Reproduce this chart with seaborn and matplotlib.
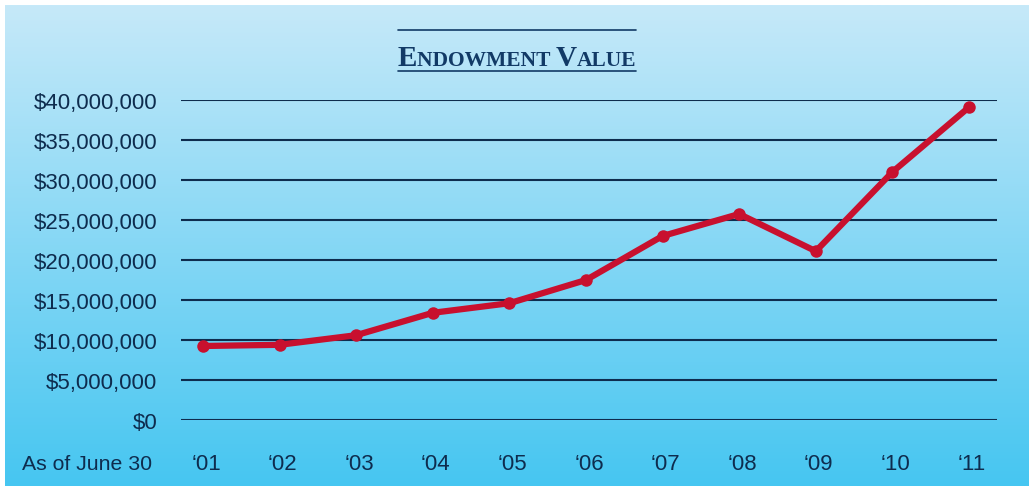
import numpy as np
import pandas as pd
import matplotlib
matplotlib.use("Agg")
import matplotlib.pyplot as plt
import seaborn as sns

years = ["\u201801", "\u201802", "\u201803", "\u201804", "\u201805", "\u201806",
         "\u201807", "\u201808", "\u201809", "\u201810", "\u201811"]
values = [9.25e6, 9.4e6, 10.6e6, 13.4e6, 14.6e6, 17.5e6,
          23.0e6, 25.75e6, 21.1e6, 31.0e6, 39.1e6]
yticks = [0, 5e6, 10e6, 15e6, 20e6, 25e6, 30e6, 35e6, 40e6]

sns.set_style("white")
plt.rcParams['font.family'] = ['Liberation Sans', 'DejaVu Sans']

W, H = 1030, 489
fig = plt.figure(figsize=(W / 100, H / 100), dpi=100)
fig.patch.set_facecolor("white")

# gradient background panel
bg = fig.add_axes([5 / W, 2 / H, (1029 - 5) / W, (487 - 6) / H])
top = np.array([0xc6, 0xe9, 0xf9]) / 255
bot = np.array([0x46, 0xc6, 0xf1]) / 255
t = np.linspace(0, 1, 256)[:, None]
grad = (top[None, :] * (1 - t) + bot[None, :] * t)[:, None, :]
bg.imshow(grad, aspect="auto", extent=[0, 1, 0, 1], origin="upper")
bg.set_axis_off()

navy = "#0e2c4e"
fs = 16
ax = fig.add_axes([181 / W, 1 - 421 / H, (997 - 181) / W, (421 - 101) / H])
ax.patch.set_alpha(0)

df = pd.DataFrame({"x": np.arange(len(years)), "value": values})
for yv in yticks:
    ax.axhline(yv, color=navy, lw=1.5, zorder=1)
sns.lineplot(data=df, x="x", y="value", ax=ax, color="#c8102e", lw=4.5,
             marker="o", markersize=9, markeredgewidth=0, zorder=3, clip_on=False)

ax.set_ylim(0, 40e6)
step = (969 - 203) / 10
ax.set_xlim(-(203 - 181) / step, 10 + (997 - 969) / step)
ax.set_yticks(yticks)
ax.set_yticklabels([f"${int(v):,}" for v in yticks])
ax.set_xticks(np.arange(len(years)) + 0.04)
ax.set_xticklabels(years)
ax.tick_params(axis="y", length=0, pad=17, labelsize=fs, labelcolor=navy)
ax.tick_params(axis="x", length=0, pad=24, labelsize=fs, labelcolor=navy)
ax.set_xlabel("")
ax.set_ylabel("")
for s in ax.spines.values():
    s.set_visible(False)

fig.text(22 / W, 1 - 465 / H, "As of June 30", ha="left", va="center",
         fontsize=15.3, color=navy)

# Title in small caps
renderer = fig.canvas.get_renderer()
pieces = [("E", 21), ("NDOWMENT ", 15.5), ("V", 21), ("ALUE", 15.5)]
texts = []
for s, f in pieces:
    tx = fig.text(0, 1 - 66 / H, s, ha="left", va="baseline", fontsize=f,
                  family="Liberation Serif", fontweight="bold", color="#123a66")
    texts.append(tx)
widths = [tx.get_window_extent(renderer).width for tx in texts]
total = sum(widths)
cx = 517
xpos = cx - total / 2
for tx, w in zip(texts, widths):
    tx.set_x(xpos / W)
    xpos += w
fig.add_artist(plt.Line2D([398 / W, 636 / W], [1 - 31 / H, 1 - 31 / H], color="#123a66", lw=1.2))
fig.add_artist(plt.Line2D([398 / W, 636 / W], [1 - 72 / H, 1 - 72 / H], color="#123a66", lw=1.2))

fig.savefig("out.png", dpi=100)
